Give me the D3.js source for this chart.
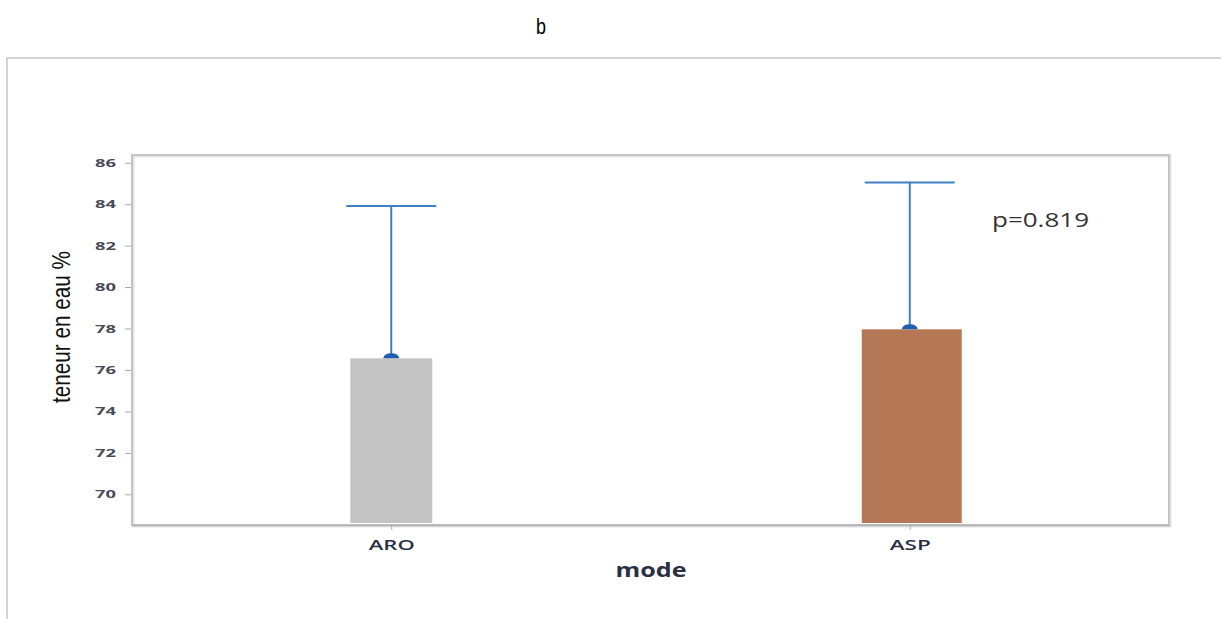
<!DOCTYPE html>
<html>
<head>
<meta charset="utf-8">
<script src="https://cdn.jsdelivr.net/npm/d3@7"></script>
<style>
  html, body { margin: 0; padding: 0; background: #fff; }
  svg { display: block; }
</style>
</head>
<body>
<script>
// ---- data ----
const categories = ["ARO", "ASP"];
const means = [76.56, 77.96];
const upperErrors = [83.91, 85.04];
const yTicks = [70, 72, 74, 76, 78, 80, 82, 84, 86];
const barColors = ["#c3c3c3", "#b57856"];
const pValueLabel = "p=0.819";
const panelLabel = "b";
const xTitle = "mode";
const yTitle = "teneur en eau  %";

// ---- layout ----
const W = 1221, H = 619;
const plot = { left: 132, right: 1169, top: 155, bottom: 525 };
const barWidths = [82, 100];
const barOffsets = [0, 2];
const xLabelLengths = [46, 41];
const capHalf = 45;

const svg = d3.select("body").append("svg").attr("width", W).attr("height", H);

// outer frame
svg.append("path")
  .attr("d", `M7,${H} L7,58 L${W},58`)
  .attr("fill", "none").attr("stroke", "#d4d4d4").attr("stroke-width", 2);

// panel label
svg.append("text").attr("x", 541).attr("y", 34)
  .attr("text-anchor", "middle")
  .attr("font-family", "Liberation Sans Narrow, Liberation Sans, Arial, sans-serif")
  .attr("font-size", 22).attr("fill", "#000")
  .attr("textLength", 10).attr("lengthAdjust", "spacingAndGlyphs")
  .text(panelLabel);

const x = d3.scalePoint().domain(categories).range([plot.left, plot.right]).padding(0.5);
const y = d3.scaleLinear().domain([68.52, 86.37]).range([plot.bottom, plot.top]);

// plot frame (with soft shadow)
svg.append("rect")
  .attr("x", plot.left + 1).attr("y", plot.top + 1)
  .attr("width", plot.right - plot.left).attr("height", plot.bottom - plot.top)
  .attr("fill", "none").attr("stroke", "#e4e4e4").attr("stroke-width", 3);
svg.append("rect")
  .attr("x", plot.left).attr("y", plot.top)
  .attr("width", plot.right - plot.left).attr("height", plot.bottom - plot.top)
  .attr("fill", "none").attr("stroke", "#c4c4c4").attr("stroke-width", 2);

// y axis
const yAxis = svg.append("g").attr("transform", `translate(${plot.left - 1},0)`)
  .call(d3.axisLeft(y).tickValues(yTicks).tickSize(6).tickPadding(9).tickFormat(d3.format("d")));
yAxis.select(".domain").remove();
yAxis.selectAll(".tick line").attr("stroke", "#aaa").attr("stroke-width", 1);
yAxis.selectAll(".tick text")
  .attr("font-family", "Open Sans, DejaVu Sans, sans-serif")
  .attr("font-size", 11).attr("font-weight", 700).attr("fill", "#4a4a58")
  .attr("textLength", 21).attr("lengthAdjust", "spacingAndGlyphs");

// x axis
const xAxis = svg.append("g").attr("transform", `translate(0,${plot.bottom})`)
  .call(d3.axisBottom(x).tickSize(5).tickSizeOuter(0).tickPadding(9));
xAxis.select(".domain").attr("stroke", "#b0b0b0").attr("stroke-width", 1.5);
xAxis.selectAll(".tick line").attr("stroke", "#aaa");
xAxis.selectAll(".tick text")
  .attr("font-family", "Open Sans, DejaVu Sans, sans-serif")
  .attr("font-size", 15).attr("font-weight", 600).attr("fill", "#2a2f45")
  .attr("textLength", (d, i) => xLabelLengths[i]).attr("lengthAdjust", "spacingAndGlyphs");

// bars
const data = categories.map((c, i) => ({ c, m: means[i], u: upperErrors[i], i }));
svg.append("g").selectAll("rect").data(data).join("rect")
  .attr("x", d => x(d.c) - barWidths[d.i] / 2 + barOffsets[d.i])
  .attr("width", d => barWidths[d.i])
  .attr("y", d => y(d.m))
  .attr("height", d => plot.bottom - 2 - y(d.m))
  .attr("fill", d => barColors[d.i]);

// error bars (upper only)
const eb = svg.append("g").attr("stroke", "#3f7fc4").attr("stroke-width", 2);
eb.selectAll("line.v").data(data).join("line").attr("class", "v")
  .attr("x1", d => x(d.c)).attr("x2", d => x(d.c))
  .attr("y1", d => y(d.m) - 2).attr("y2", d => y(d.u));
eb.selectAll("line.c").data(data).join("line").attr("class", "c")
  .attr("x1", d => x(d.c) - capHalf).attr("x2", d => x(d.c) + capHalf)
  .attr("y1", d => y(d.u)).attr("y2", d => y(d.u));
svg.append("g").selectAll("path").data(data).join("path")
  .attr("d", d => {
    const cx = x(d.c), cy = y(d.m);
    return `M${cx - 8},${cy} Q${cx - 7},${cy - 5} ${cx},${cy - 5} Q${cx + 7},${cy - 5} ${cx + 8},${cy} Z`;
  })
  .attr("fill", "#1f5fb0");

// p-value
svg.append("text").attr("x", 992).attr("y", 227)
  .attr("font-family", "Open Sans, DejaVu Sans, sans-serif")
  .attr("font-size", 20).attr("font-weight", 500).attr("fill", "#333")
  .attr("textLength", 97).attr("lengthAdjust", "spacingAndGlyphs")
  .text(pValueLabel);

// axis titles
svg.append("text").attr("x", 651).attr("y", 577)
  .attr("text-anchor", "middle")
  .attr("font-family", "Open Sans, DejaVu Sans, sans-serif")
  .attr("font-size", 20).attr("font-weight", 700).attr("fill", "#2a2f45")
  .attr("textLength", 71).attr("lengthAdjust", "spacingAndGlyphs")
  .text(xTitle);

svg.append("text")
  .attr("transform", "translate(70,327) rotate(-90)")
  .attr("text-anchor", "middle")
  .attr("font-family", "Liberation Sans Narrow, Liberation Sans, Arial, sans-serif")
  .attr("font-size", 25).attr("font-weight", 500).attr("fill", "#111")
  .attr("textLength", 152).attr("lengthAdjust", "spacingAndGlyphs")
  .text(yTitle);
</script>
</body>
</html>
